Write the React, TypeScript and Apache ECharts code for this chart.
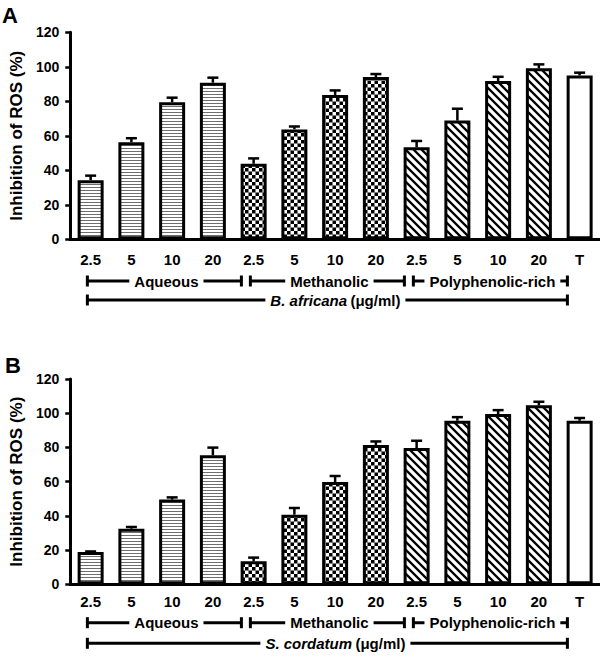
import React, { useEffect, useRef } from "react";
import * as echarts from "echarts";

// ---------- data ----------
const doseLabels = ["2.5", "5", "10", "20", "2.5", "5", "10", "20", "2.5", "5", "10", "20", "T"];
const fillKinds = ["stripe", "stripe", "stripe", "stripe", "check", "check", "check", "check", "hatch", "hatch", "hatch", "hatch", "plain"];
const groupNames = ["Aqueous", "Methanolic", "Polyphenolic-rich"];
const groupStart = [0, 4, 8];
const groupEnd = [3, 7, 11];
const speciesNames = ["B. africana", "S. cordatum"];
const unitLabel = "(\u03bcg/ml)";
const panelLetters = ["A", "B"];
const yAxisTitle = "Inhibition of ROS (%)";

const meansA = [34.2, 56.3, 79.4, 90.8, 43.8, 63.7, 83.7, 94.1, 53.3, 68.8, 91.8, 99.1, 95.0];
const errsA = [2.7, 2.3, 2.7, 2.9, 3.1, 1.7, 2.6, 1.7, 3.7, 6.9, 2.4, 2.3, 1.6];
const meansB = [18.9, 32.5, 49.5, 75.4, 13.4, 40.7, 59.8, 81.4, 79.6, 95.6, 99.5, 104.6, 95.6];
const errsB = [0.3, 1.0, 1.3, 4.5, 2.2, 3.9, 3.5, 2.1, 4.3, 2.1, 2.3, 2.1, 1.6];

const yMin = 0;
const yMax = 120;
const yInterval = 20;

// ---------- layout ----------
const FONT = '"Liberation Sans", Arial, Helvetica, sans-serif';
const panels = [
  { means: meansA, errs: errsA, top: 32.3, height: 207, labelMargin: 13, groupDy: 41.7, totalDy: 60.7, letterX: 2, letterY: 15.5 },
  { means: meansB, errs: errsB, top: 379, height: 205.3, labelMargin: 10, groupDy: 38.4, totalDy: 59, letterX: 5, letterY: 365 },
];

function makePatterns() {
  const stripe = document.createElement("canvas");
  stripe.width = 4;
  stripe.height = 3;
  let g = stripe.getContext("2d")!;
  g.fillStyle = "#fff";
  g.fillRect(0, 0, 4, 3);
  g.fillStyle = "#6e6e6e";
  g.fillRect(0, 1, 4, 1);

  const check = document.createElement("canvas");
  check.width = 14;
  check.height = 14;
  g = check.getContext("2d")!;
  g.fillStyle = "#fff";
  g.fillRect(0, 0, 14, 14);
  g.fillStyle = "#000";
  g.fillRect(0, 0, 7, 7);
  g.fillRect(7, 7, 7, 7);

  const hatch = document.createElement("canvas");
  hatch.width = 16;
  hatch.height = 16;
  g = hatch.getContext("2d")!;
  g.fillStyle = "#fff";
  g.fillRect(0, 0, 16, 16);
  g.strokeStyle = "#000";
  g.lineWidth = 4.6;
  g.beginPath();
  for (let k = -2; k <= 2; k++) {
    g.moveTo(k * 16 - 4, -4);
    g.lineTo(k * 16 + 20, 20);
  }
  g.stroke();

  return {
    stripe: { image: stripe, repeat: "repeat", imageWidth: 4, imageHeight: 3 },
    check: { image: check, repeat: "repeat", imageWidth: 14, imageHeight: 14, scaleX: 0.5, scaleY: 0.5 },
    hatch: { image: hatch, repeat: "repeat", imageWidth: 16, imageHeight: 16, scaleX: 0.5, scaleY: 0.5 },
    plain: "#ffffff",
  } as Record<string, any>;
}

export default function App() {
  const ref = useRef<HTMLDivElement>(null);

  useEffect(() => {
    if (!ref.current) return;
    const chart = echarts.init(ref.current, null, { renderer: "svg" });
    const fills = makePatterns();

    const grid: any[] = [];
    const xAxis: any[] = [];
    const yAxis: any[] = [];
    const series: any[] = [];
    const graphic: any[] = [];

    panels.forEach((p, pi) => {
      grid.push({ left: 60, right: 0, top: p.top, height: p.height, containLabel: false });
      xAxis.push({
        type: "category",
        gridIndex: pi,
        data: doseLabels.map((_, i) => "c" + i),
        axisLine: { lineStyle: { color: "#000", width: 3 } },
        axisTick: { alignWithLabel: true, length: 5, lineStyle: { color: "#000", width: 2.5 } },
        axisLabel: {
          interval: 0,
          formatter: (_v: string, i: number) => doseLabels[i],
          color: "#000",
          fontFamily: FONT,
          fontWeight: "bold",
          fontSize: 15,
          margin: p.labelMargin,
        },
        splitLine: { show: false },
      });
      yAxis.push({
        type: "value",
        gridIndex: pi,
        min: yMin,
        max: yMax,
        interval: yInterval,
        name: yAxisTitle,
        nameLocation: "middle",
        nameGap: 39,
        nameTextStyle: { color: "#000", fontFamily: FONT, fontWeight: "bold", fontSize: 17 },
        axisLine: { show: true, lineStyle: { color: "#000", width: 3 } },
        axisTick: { show: true, length: 5, lineStyle: { color: "#000", width: 2.5 } },
        axisLabel: { color: "#000", fontFamily: FONT, fontWeight: "bold", fontSize: 14, margin: 11 },
        splitLine: { show: false },
      });

      series.push({
        type: "bar",
        xAxisIndex: pi,
        yAxisIndex: pi,
        barWidth: 26,
        z: 2,
        itemStyle: { borderColor: "#000", borderWidth: 3 },
        data: p.means.map((m, i) => ({ value: m, itemStyle: { color: fills[fillKinds[i]] } })),
      });

      series.push({
        type: "custom",
        xAxisIndex: pi,
        yAxisIndex: pi,
        z: 3,
        clip: false,
        encode: { x: 0, y: [1, 2] },
        data: p.means.map((m, i) => [i, m, m + p.errs[i]]),
        renderItem: (_params: any, api: any) => {
          const i = api.value(0);
          const base = api.coord([i, api.value(1)]);
          const top = api.coord([i, api.value(2)]);
          const st = { stroke: "#000", lineWidth: 2.5 };
          return {
            type: "group",
            children: [
              { type: "line", shape: { x1: base[0], y1: base[1], x2: top[0], y2: top[1] }, style: st },
              { type: "line", shape: { x1: top[0] - 5.5, y1: top[1], x2: top[0] + 5.5, y2: top[1] }, style: st },
            ],
          };
        },
      });

      const brStart = [...groupStart, groupStart[0]];
      const brEnd = [...groupEnd, groupEnd[groupEnd.length - 1]];
      series.push({
        type: "custom",
        xAxisIndex: pi,
        yAxisIndex: pi,
        z: 4,
        clip: false,
        silent: true,
        encode: { x: [0, 1], y: 2 },
        data: brStart.map((s, k) => [s, brEnd[k], 0]),
        renderItem: (params: any, api: any) => {
          const k = params.dataIndex;
          const isTotal = k === groupNames.length;
          const s = api.coord([api.value(0), 0]);
          const e = api.coord([api.value(1), 0]);
          const band = api.size([1, 0])[0];
          const x0 = s[0] - 0.08 * band;
          const x1 = e[0] + 0.7 * band;
          const y = s[1] + (isTotal ? p.totalDy : p.groupDy);
          const st = { stroke: "#000", lineWidth: 3 };
          const textStyle: any = isTotal
            ? {
                text: "{i|" + speciesNames[pi] + "} {n|" + unitLabel + "}",
                rich: {
                  i: { fontFamily: FONT, fontSize: 15, fontWeight: "bold", fontStyle: "italic", fill: "#000" },
                  n: { fontFamily: FONT, fontSize: 15, fontWeight: "bold", fill: "#000" },
                },
              }
            : { text: groupNames[k], fontFamily: FONT, fontSize: 15, fontWeight: "bold", fill: "#000" };
          return {
            type: "group",
            children: [
              { type: "line", shape: { x1: x0, y1: y, x2: x1, y2: y }, style: st },
              { type: "line", shape: { x1: x0, y1: y - 5.5, x2: x0, y2: y + 5.5 }, style: st },
              { type: "line", shape: { x1: x1, y1: y - 5.5, x2: x1, y2: y + 5.5 }, style: st },
              {
                type: "text",
                x: (x0 + x1) / 2 + (isTotal ? 8 : 2),
                y: y,
                style: {
                  ...textStyle,
                  align: "center",
                  verticalAlign: "middle",
                  backgroundColor: "#fff",
                  padding: [1, 5],
                },
              },
            ],
          };
        },
      });

      graphic.push({
        type: "text",
        left: p.letterX,
        top: p.letterY - 11,
        style: { text: panelLetters[pi], fontFamily: FONT, fontSize: 22, fontWeight: "bold", fill: "#000" },
      });
    });

    chart.setOption({
      animation: false,
      backgroundColor: "#fff",
      grid,
      xAxis,
      yAxis,
      series,
      graphic,
    });

    return () => chart.dispose();
  }, []);

  return (
    <div
      ref={ref}
      style={{ position: "fixed", left: 0, top: 0, width: 600, height: 657, background: "#fff" }}
    />
  );
}
